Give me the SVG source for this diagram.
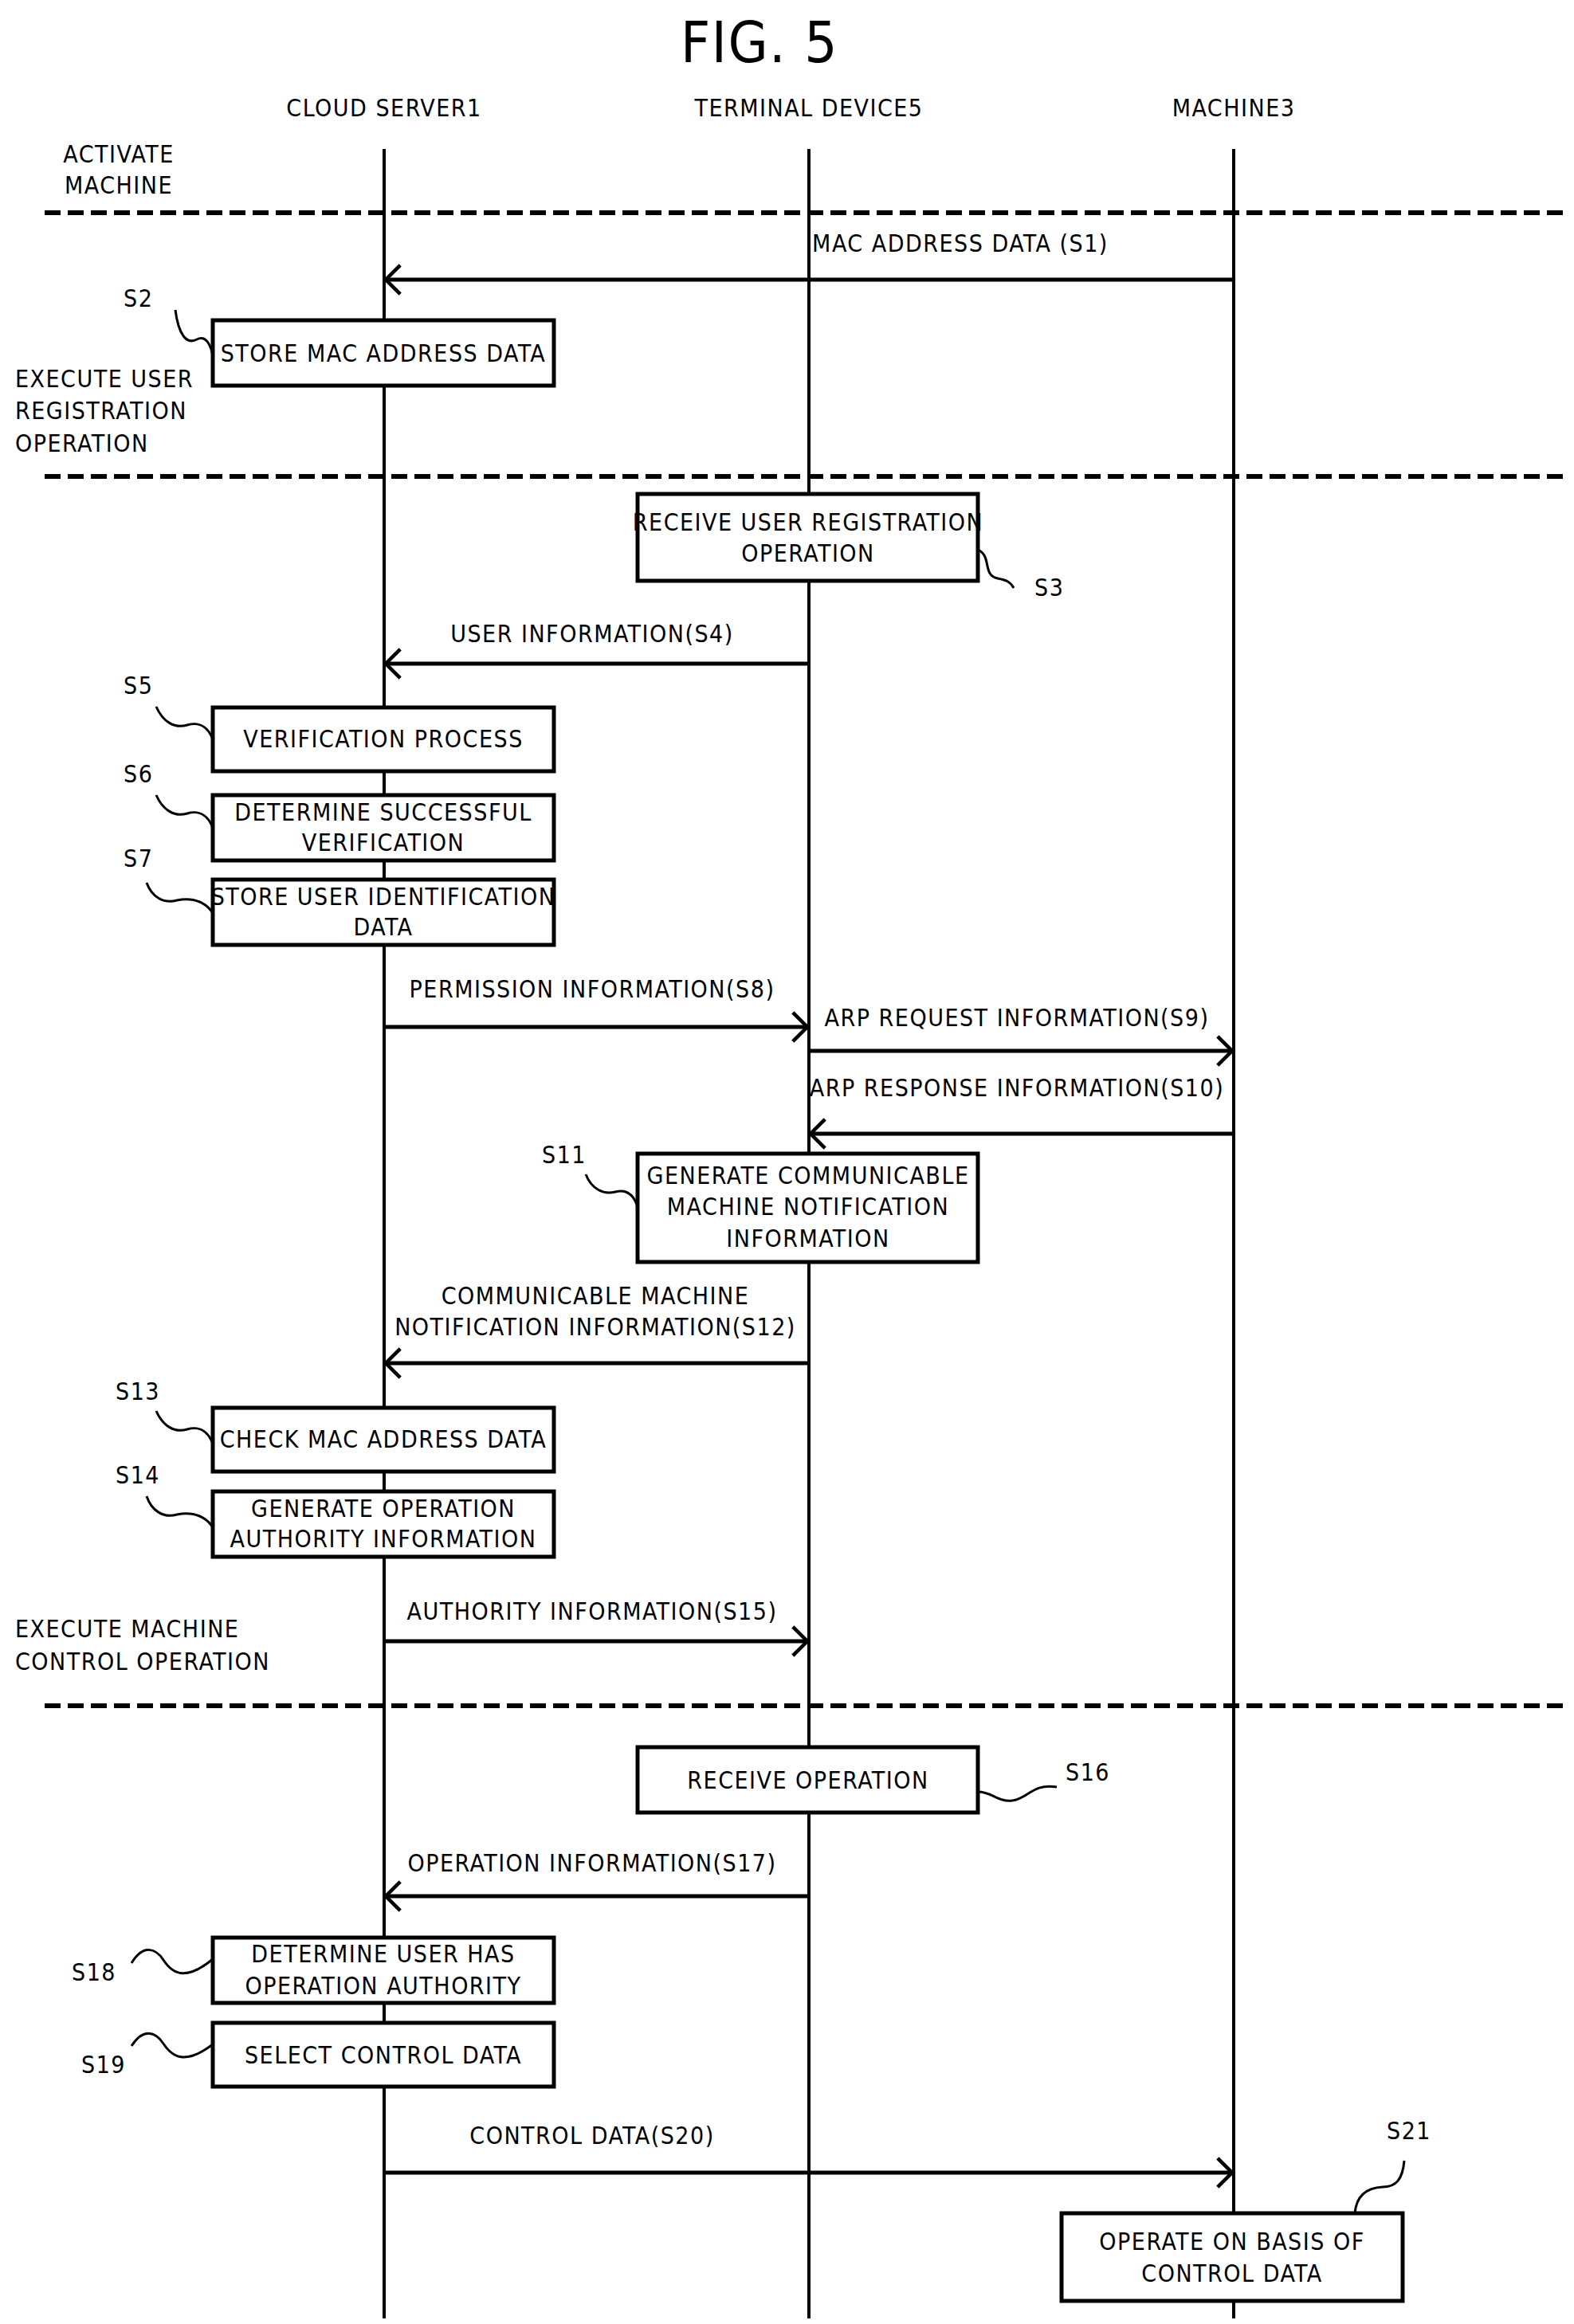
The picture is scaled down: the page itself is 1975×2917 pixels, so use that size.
<svg xmlns="http://www.w3.org/2000/svg" width="1975" height="2917" viewBox="0 0 1975 2917">
<style>
text{font-family:"Liberation Sans Narrow","DejaVu Sans Condensed","Liberation Sans",sans-serif;font-size:30px;fill:#000;letter-spacing:1.5px}
.c{text-anchor:middle}
.life{stroke:#000;stroke-width:4}
.dash{stroke:#000;stroke-width:6;stroke-dasharray:20 9}
.arr{stroke:#000;stroke-width:5;fill:none;marker-end:url(#ah)}
.box{fill:#fff;stroke:#000;stroke-width:5}
.sq{fill:none;stroke:#000;stroke-width:3}
</style>
<defs>
<marker id="ah" markerUnits="userSpaceOnUse" markerWidth="40" markerHeight="50" refX="22" refY="22" orient="auto" viewBox="0 0 44 44">
<path d="M2,2 L22,22 L2,42" fill="none" stroke="#000" stroke-width="5"/>
</marker>
</defs>
<rect width="1975" height="2917" fill="#fff"/>
<text class="c" x="953" y="78" style="font-size:72px">FIG. 5</text>
<g id="headers">
<text class="c" x="482" y="146">CLOUD SERVER1</text>
<text class="c" x="1015" y="146">TERMINAL DEVICE5</text>
<text class="c" x="1548" y="146">MACHINE3</text>
</g>
<g id="phases">
<text class="c" x="149" y="204">ACTIVATE</text>
<text class="c" x="149" y="243">MACHINE</text>
<text x="19" y="486">EXECUTE USER</text>
<text x="19" y="526">REGISTRATION</text>
<text x="19" y="567">OPERATION</text>
<text x="19" y="2055">EXECUTE MACHINE</text>
<text x="19" y="2096">CONTROL OPERATION</text>
<line class="dash" x1="56" y1="267" x2="1970" y2="267"/>
<line class="dash" x1="56" y1="598" x2="1970" y2="598"/>
<line class="dash" x1="56" y1="2141" x2="1970" y2="2141"/>
</g>
<g id="lifelines">
<line class="life" x1="482" y1="187" x2="482" y2="2910"/>
<line class="life" x1="1015" y1="187" x2="1015" y2="2910"/>
<line class="life" x1="1548" y1="187" x2="1548" y2="2910"/>
</g>
<g id="connectors">
<line class="arr" x1="1548" y1="351" x2="484" y2="351"/>
<text class="c" x="1205" y="316">MAC ADDRESS DATA (S1)</text>
<line class="arr" x1="1015" y1="833" x2="484" y2="833"/>
<text class="c" x="743" y="806">USER INFORMATION(S4)</text>
<line class="arr" x1="482" y1="1289" x2="1013" y2="1289"/>
<text class="c" x="743" y="1252">PERMISSION INFORMATION(S8)</text>
<line class="arr" x1="1015" y1="1319" x2="1546" y2="1319"/>
<text class="c" x="1276" y="1288">ARP REQUEST INFORMATION(S9)</text>
<line class="arr" x1="1548" y1="1423" x2="1017" y2="1423"/>
<text class="c" x="1276" y="1376">ARP RESPONSE INFORMATION(S10)</text>
<line class="arr" x1="1015" y1="1711" x2="484" y2="1711"/>
<text class="c" x="747" y="1637">COMMUNICABLE MACHINE</text>
<text class="c" x="747" y="1676">NOTIFICATION INFORMATION(S12)</text>
<line class="arr" x1="482" y1="2060" x2="1013" y2="2060"/>
<text class="c" x="743" y="2033">AUTHORITY INFORMATION(S15)</text>
<line class="arr" x1="1015" y1="2380" x2="484" y2="2380"/>
<text class="c" x="743" y="2349">OPERATION INFORMATION(S17)</text>
<line class="arr" x1="482" y1="2727" x2="1546" y2="2727"/>
<text class="c" x="743" y="2691">CONTROL DATA(S20)</text>
</g>
<g id="s2"><rect class="box" x="267" y="402" width="428" height="82"/><text class="c" x="481" y="454">STORE MAC ADDRESS DATA</text>
<text x="155" y="385">S2</text><path class="sq" d="M220,389 C224,420 234,433 247,426 C258,420 265,433 267,448"/></g>
<g id="s3"><rect class="box" x="800" y="620" width="427" height="109"/><text class="c" x="1014" y="666">RECEIVE USER REGISTRATION</text><text class="c" x="1014" y="705">OPERATION</text>
<text x="1298" y="748">S3</text><path class="sq" d="M1227,690 C1245,698 1232,722 1252,726 C1262,728 1268,730 1272,738"/></g>
<g id="s5"><rect class="box" x="267" y="888" width="428" height="80"/><text class="c" x="481" y="938">VERIFICATION PROCESS</text>
<text x="155" y="871">S5</text><path class="sq" d="M196,887 C204,905 218,915 235,910 C252,905 262,915 267,928"/></g>
<g id="s6"><rect class="box" x="267" y="998" width="428" height="82"/><text class="c" x="481" y="1030">DETERMINE SUCCESSFUL</text><text class="c" x="481" y="1068">VERIFICATION</text>
<text x="155" y="982">S6</text><path class="sq" d="M196,998 C204,1016 218,1026 235,1021 C252,1016 262,1026 267,1039"/></g>
<g id="s7"><rect class="box" x="267" y="1104" width="428" height="82"/><text class="c" x="481" y="1136">STORE USER IDENTIFICATION</text><text class="c" x="481" y="1174">DATA</text>
<text x="155" y="1088">S7</text><path class="sq" d="M184,1108 C190,1125 205,1135 222,1130 C245,1125 260,1135 267,1146"/></g>
<g id="s11"><rect class="box" x="800" y="1448" width="427" height="136"/><text class="c" x="1014" y="1486">GENERATE COMMUNICABLE</text><text class="c" x="1014" y="1525">MACHINE NOTIFICATION</text><text class="c" x="1014" y="1565">INFORMATION</text>
<text x="680" y="1460">S11</text><path class="sq" d="M735,1474 C742,1492 757,1500 772,1496 C788,1492 796,1502 800,1515"/></g>
<g id="s13"><rect class="box" x="267" y="1767" width="428" height="80"/><text class="c" x="481" y="1817">CHECK MAC ADDRESS DATA</text>
<text x="145" y="1757">S13</text><path class="sq" d="M196,1771 C204,1789 218,1799 235,1794 C252,1789 262,1799 267,1812"/></g>
<g id="s14"><rect class="box" x="267" y="1872" width="428" height="82"/><text class="c" x="481" y="1904">GENERATE OPERATION</text><text class="c" x="481" y="1942">AUTHORITY INFORMATION</text>
<text x="145" y="1862">S14</text><path class="sq" d="M184,1878 C190,1896 205,1906 222,1901 C245,1896 260,1906 267,1917"/></g>
<g id="s16"><rect class="box" x="800" y="2193" width="427" height="82"/><text class="c" x="1014" y="2245">RECEIVE OPERATION</text>
<text x="1337" y="2235">S16</text><path class="sq" d="M1227,2249 C1245,2249 1252,2262 1270,2260 C1290,2258 1295,2238 1326,2243"/></g>
<g id="s18"><rect class="box" x="267" y="2432" width="428" height="82"/><text class="c" x="481" y="2463">DETERMINE USER HAS</text><text class="c" x="481" y="2503">OPERATION AUTHORITY</text>
<text x="90" y="2486">S18</text><path class="sq" d="M165,2464 C180,2440 195,2445 205,2460 C218,2480 235,2485 267,2459"/></g>
<g id="s19"><rect class="box" x="267" y="2539" width="428" height="80"/><text class="c" x="481" y="2590">SELECT CONTROL DATA</text>
<text x="102" y="2602">S19</text><path class="sq" d="M165,2568 C180,2545 195,2550 205,2565 C218,2585 235,2590 267,2566"/></g>
<g id="s21"><rect class="box" x="1332" y="2778" width="428" height="110"/><text class="c" x="1546" y="2824">OPERATE ON BASIS OF</text><text class="c" x="1546" y="2864">CONTROL DATA</text>
<text x="1740" y="2685">S21</text><path class="sq" d="M1762,2712 C1760,2735 1752,2745 1735,2745 C1715,2746 1702,2755 1700,2778"/></g>
</svg>
